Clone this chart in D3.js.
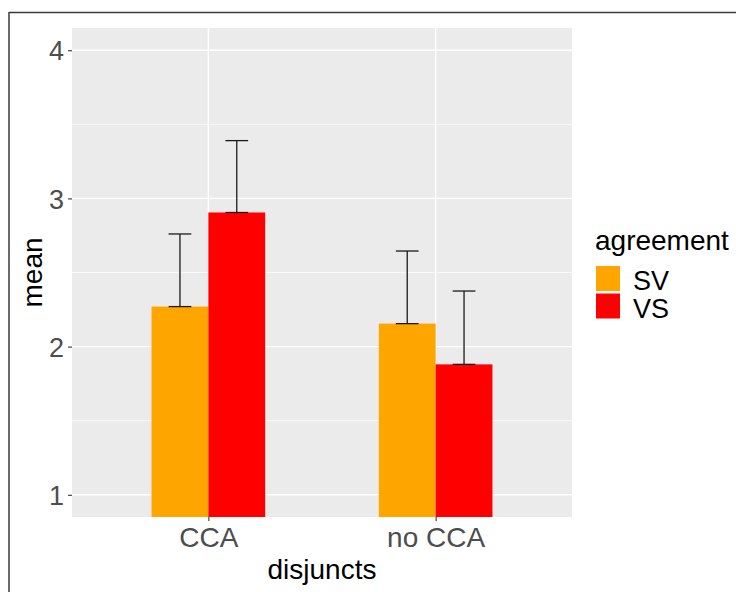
<!DOCTYPE html>
<html><head><meta charset="utf-8">
<script src="https://cdn.jsdelivr.net/npm/d3@7"></script>
<style>body{margin:0;background:#fff;} svg{display:block;font-family:"Liberation Sans",Arial,sans-serif;}</style>
</head><body>
<svg id="c" width="736" height="592"></svg>
<script>
const categories = ["CCA", "no CCA"];
const groups = ["SV", "VS"];
const meanSV = [2.27, 2.155];
const meanVS = [2.905, 1.88];
const upperSV = [2.76, 2.645];
const upperVS = [3.39, 2.375];
const yTicks = [1, 2, 3, 4];
const colors = ["#FFA500", "#FF0000"];

const data = [];
categories.forEach((c, i) => {
  data.push({cat: c, grp: "SV", mean: meanSV[i], up: upperSV[i]});
  data.push({cat: c, grp: "VS", mean: meanVS[i], up: upperVS[i]});
});

const svg = d3.select("#c");
const L = 72, R = 572, T = 28, B = 517;

// frame lines
svg.append("line").attr("x1", 9).attr("x2", 9).attr("y1", 12).attr("y2", 592).attr("stroke", "#3a3a3a").attr("stroke-width", 1.5);
svg.append("line").attr("x1", 9).attr("x2", 736).attr("y1", 12.5).attr("y2", 12.5).attr("stroke", "#3a3a3a").attr("stroke-width", 1.5);

const x = d3.scalePoint().domain(categories).range([L, R]).padding(0.6);
const step = x.step();
const xg = d3.scaleBand().domain(groups).range([-0.25 * step, 0.25 * step]).padding(0);
const y = d3.scaleLinear().domain([0.85, 4.15]).range([B, T]);

// panel
svg.append("rect").attr("x", L).attr("y", T).attr("width", R - L).attr("height", B - T).attr("fill", "#EBEBEB");
const minor = [1.5, 2.5, 3.5];
svg.selectAll(".gmin").data(minor).join("line")
  .attr("x1", L).attr("x2", R).attr("y1", d => y(d)).attr("y2", d => y(d))
  .attr("stroke", "#fff").attr("stroke-width", 0.7);
svg.selectAll(".gmaj").data(yTicks).join("line")
  .attr("x1", L).attr("x2", R).attr("y1", d => y(d)).attr("y2", d => y(d))
  .attr("stroke", "#fff").attr("stroke-width", 1.4);
svg.selectAll(".gx").data(categories).join("line")
  .attr("x1", d => x(d)).attr("x2", d => x(d)).attr("y1", T).attr("y2", B)
  .attr("stroke", "#fff").attr("stroke-width", 1.4);

// bars (clipped to panel)
svg.append("clipPath").attr("id", "clip").append("rect").attr("x", L).attr("y", T).attr("width", R - L).attr("height", B - T);
const g = svg.append("g").attr("clip-path", "url(#clip)");
g.selectAll("rect.bar").data(data).join("rect").attr("class", "bar")
  .attr("x", d => x(d.cat) + xg(d.grp))
  .attr("width", xg.bandwidth())
  .attr("y", d => y(d.mean))
  .attr("height", d => y(0.85) - y(d.mean) + 5)
  .attr("fill", d => colors[groups.indexOf(d.grp)]);

// error bars
const ew = 0.1 * step / 2;
data.forEach(d => {
  const cx = x(d.cat) + xg(d.grp) + xg.bandwidth() / 2;
  const eb = g.append("g").attr("stroke", "#1a1a1a").attr("stroke-width", 1.3);
  eb.append("line").attr("x1", cx).attr("x2", cx).attr("y1", y(d.mean)).attr("y2", y(d.up));
  eb.append("line").attr("x1", cx - ew).attr("x2", cx + ew).attr("y1", y(d.up)).attr("y2", y(d.up));
  eb.append("line").attr("x1", cx - ew).attr("x2", cx + ew).attr("y1", y(d.mean)).attr("y2", y(d.mean));
});

// axes
const yAxis = svg.append("g").attr("transform", `translate(${L},0)`)
  .call(d3.axisLeft(y).tickValues(yTicks).tickFormat(d3.format("d")).tickSize(4).tickPadding(4));
yAxis.select(".domain").remove();
yAxis.selectAll("line").attr("stroke", "#333").attr("stroke-width", 1.1);
yAxis.selectAll("text").attr("fill", "#4D4D4D").attr("font-size", 27).attr("dy", "0.36em");

const xAxis = svg.append("g").attr("transform", `translate(0,${B})`)
  .call(d3.axisBottom(x).tickSize(4).tickPadding(5));
xAxis.select(".domain").remove();
xAxis.selectAll("line").attr("stroke", "#333").attr("stroke-width", 1.1);
xAxis.selectAll("text").attr("fill", "#4D4D4D").attr("font-size", 28).attr("dy", "0.75em");

svg.append("text").attr("x", (L + R) / 2).attr("y", 579).attr("text-anchor", "middle")
  .attr("font-size", 28).attr("fill", "#000").text("disjuncts");
svg.append("text").attr("transform", `translate(42,${(T + B) / 2}) rotate(-90)`).attr("text-anchor", "middle")
  .attr("font-size", 28).attr("fill", "#000").text("mean");

// legend
svg.append("text").attr("x", 595).attr("y", 250).attr("font-size", 28).attr("fill", "#000").text("agreement");
const lg = svg.selectAll(".lk").data(groups).join("g")
  .attr("transform", (d, i) => `translate(596,${266 + i * 27.5})`);
lg.append("rect").attr("width", 24).attr("height", 25).attr("fill", (d, i) => colors[i]);
lg.append("text").attr("x", 37).attr("y", 24).attr("font-size", 27).attr("fill", "#000").text(d => d);
</script>
</body></html>
